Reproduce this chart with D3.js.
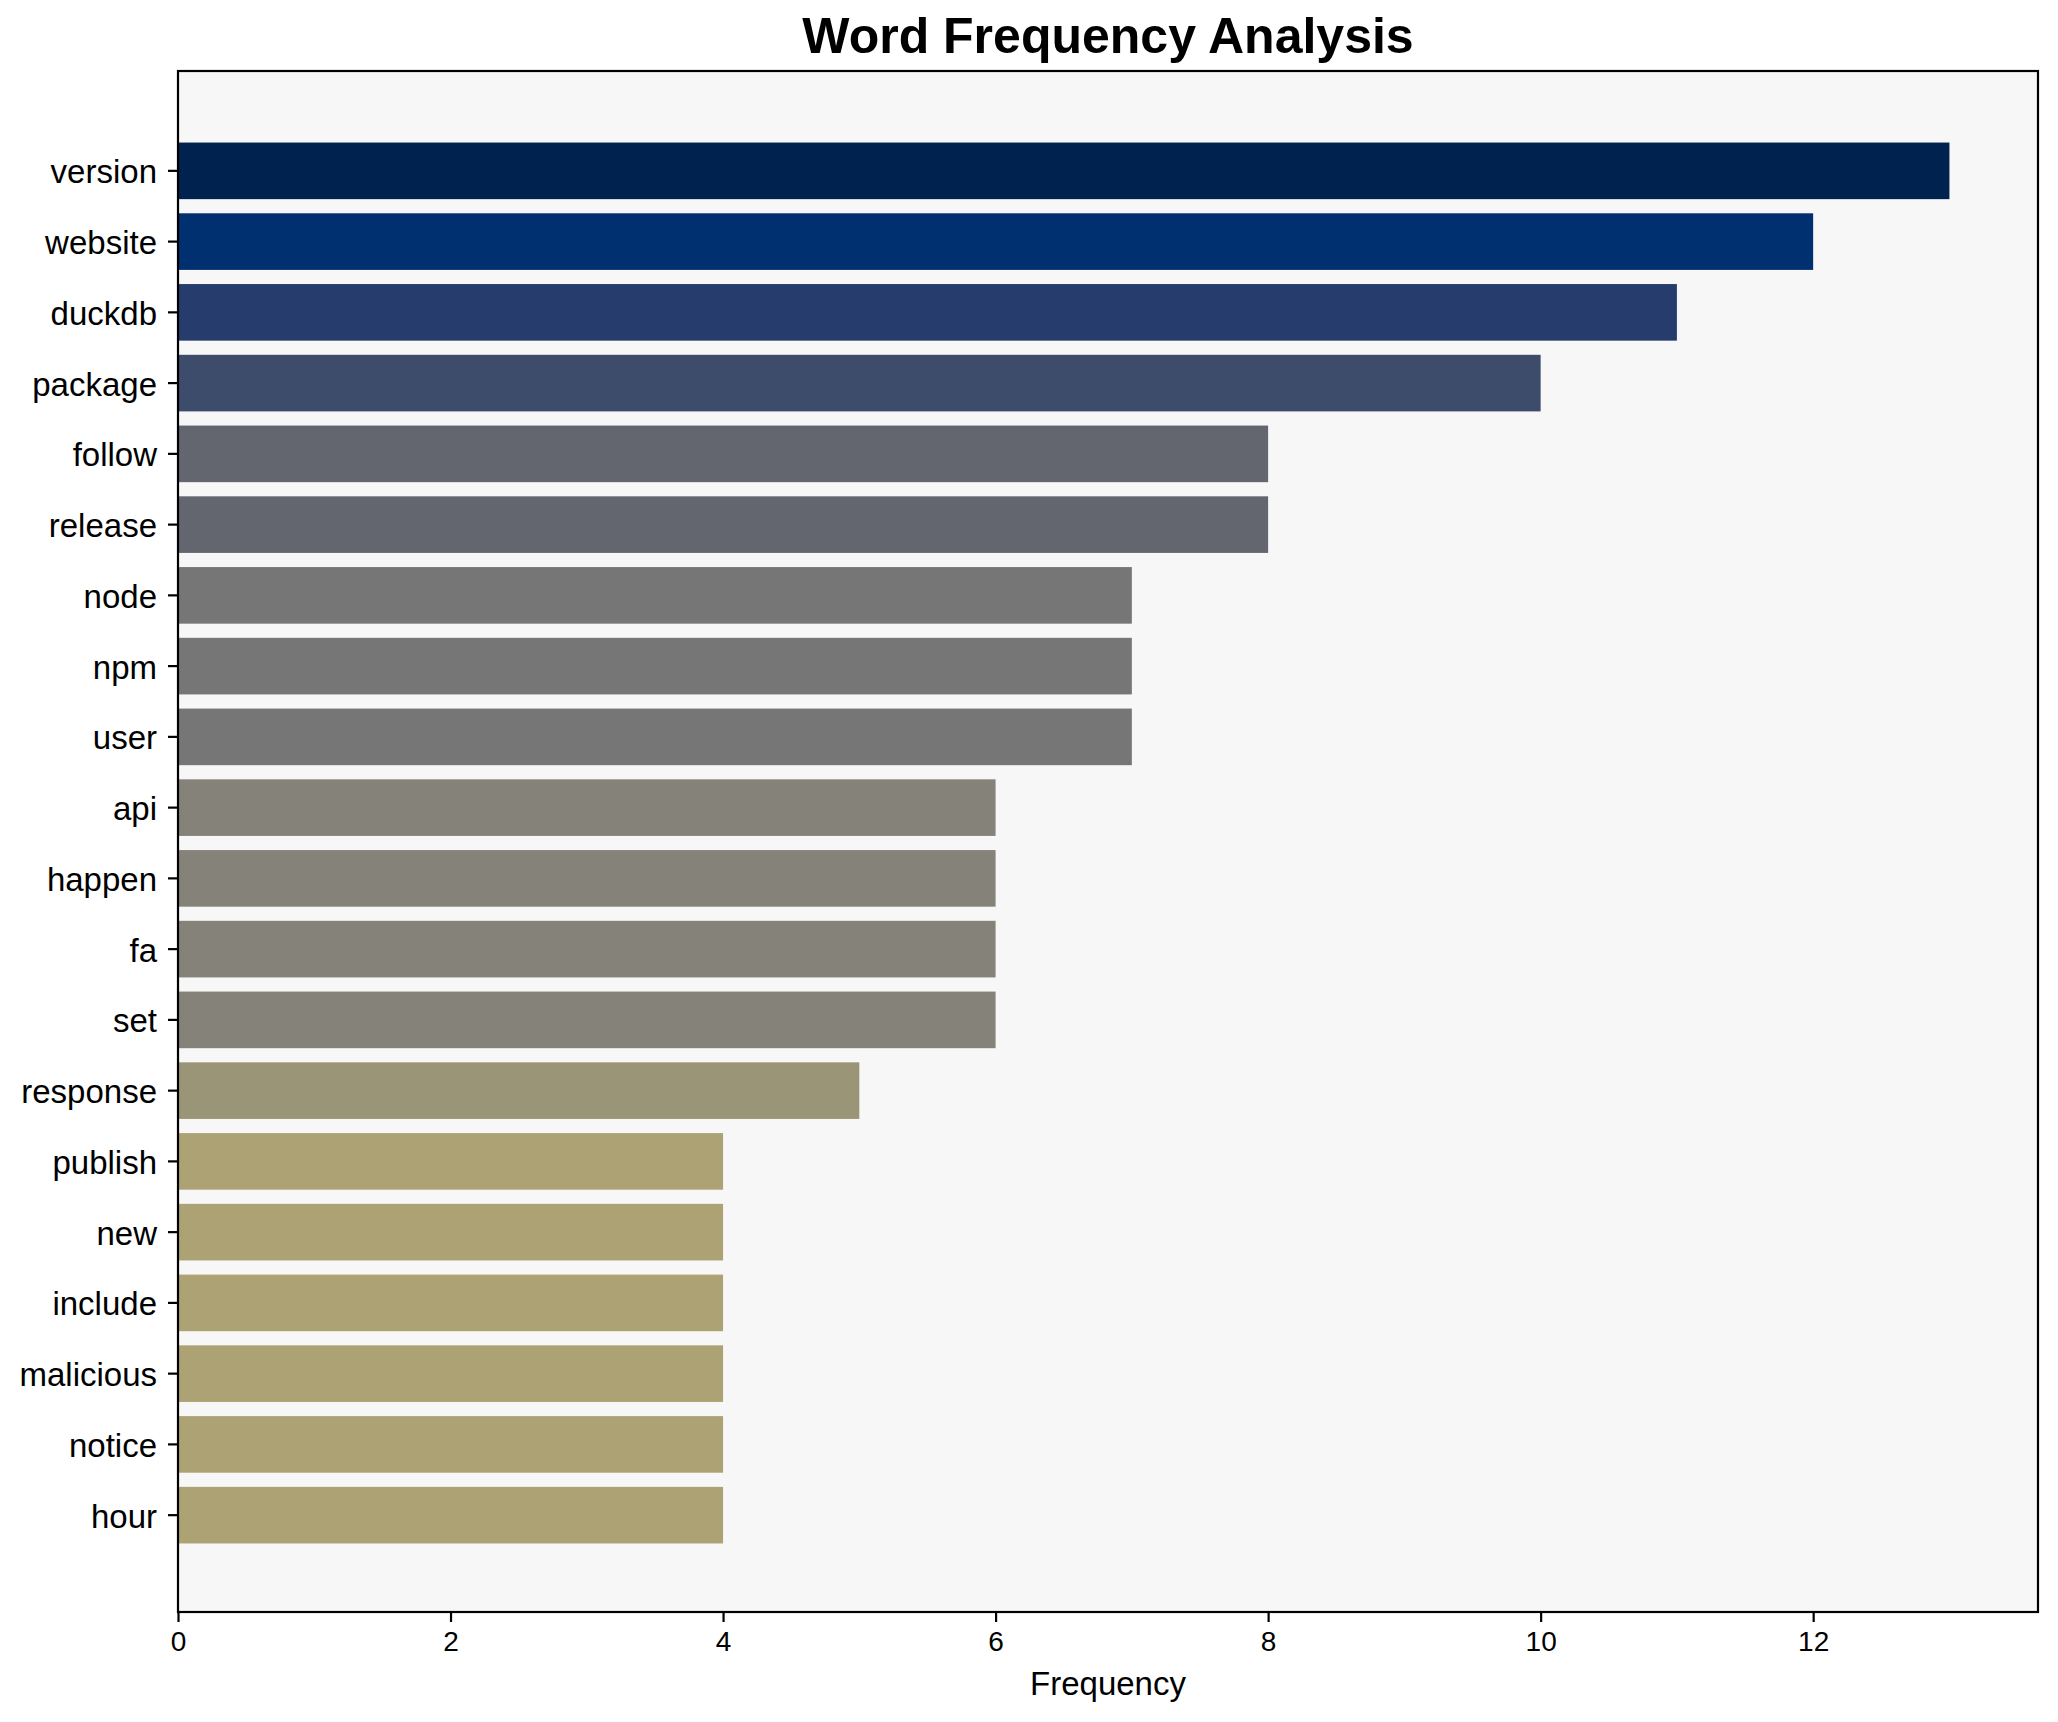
<!DOCTYPE html>
<meta charset="utf-8">
<title>Word Frequency Analysis</title>
<script src="https://d3js.org/d3.v7.min.js"></script>
<style>
  body { margin: 0; background: #fff; }
  text { font-family: "Liberation Sans", Arial, sans-serif; }
</style>
<body>
<div id="chart"></div>
<script>
// words and counts, top to bottom
var words = ["version", "website", "duckdb", "package", "follow", "release", "node", "npm", "user",
             "api", "happen", "fa", "set", "response", "publish", "new", "include", "malicious", "notice", "hour"];
var counts = [13, 12, 11, 10, 8, 8, 7, 7, 7, 6, 6, 6, 6, 5, 4, 4, 4, 4, 4, 4];
var xTicks = [0, 2, 4, 6, 8, 10, 12];

// colour per count value (cividis-like)
var colorValues = [4, 5, 6, 7, 8, 10, 11, 12, 13];
var colorList = ["#aca274", "#9b9577", "#85827a", "#767676", "#63656f", "#3e4c6b", "#253c6d", "#00306f", "#00224e"];

var W = 2058, H = 1722;
var margin = {top: 71, right: 20, bottom: 110, left: 178},
    width = W - margin.left - margin.right,
    height = H - margin.top - margin.bottom;

var svg = d3.select("#chart").append("svg")
    .attr("width", W)
    .attr("height", H);

var g = svg.append("g")
    .attr("transform", "translate(" + margin.left + "," + margin.top + ")");

var x = d3.scaleLinear()
    .domain([0, 13.65])
    .range([0, width]);

var y = d3.scaleBand()
    .domain(words)
    .range([1.5, height + 1.5])
    .paddingInner(0.2)
    .paddingOuter(0.99);

var color = d3.scaleOrdinal().domain(colorValues).range(colorList);

// plot background
g.append("rect")
    .attr("width", width)
    .attr("height", height)
    .attr("fill", "#f7f7f7");

// bars
g.selectAll(".bar")
    .data(words)
    .enter()
    .append("rect")
    .attr("class", "bar")
    .attr("x", x(0))
    .attr("y", function(d) { return y(d); })
    .attr("width", function(d, i) { return x(counts[i]) - x(0); })
    .attr("height", y.bandwidth())
    .attr("fill", function(d, i) { return color(counts[i]); });

// x axis
var xAxis = g.append("g")
    .attr("transform", "translate(0," + height + ")")
    .call(d3.axisBottom(x).tickValues(xTicks).tickSize(10).tickPadding(9).tickSizeOuter(0));
xAxis.select(".domain").remove();
xAxis.selectAll("line").attr("stroke", "#000").attr("stroke-width", 2.2);
xAxis.selectAll("text")
    .attr("font-size", "28px")
    .attr("fill", "#000")
    .attr("font-family", "Liberation Sans, Arial, sans-serif");

// y axis
var yAxis = g.append("g")
    .call(d3.axisLeft(y).tickSize(10).tickPadding(11).tickSizeOuter(0));
yAxis.select(".domain").remove();
yAxis.selectAll("line").attr("stroke", "#000").attr("stroke-width", 2.2);
yAxis.selectAll("text")
    .attr("font-size", "33px")
    .attr("dy", "0.38em")
    .attr("fill", "#000")
    .attr("font-family", "Liberation Sans, Arial, sans-serif");

// frame
g.append("rect")
    .attr("width", width)
    .attr("height", height)
    .attr("fill", "none")
    .attr("stroke", "#000")
    .attr("stroke-width", 2.2);

// title
svg.append("text")
    .attr("x", margin.left + width / 2)
    .attr("y", 53)
    .attr("text-anchor", "middle")
    .attr("font-size", "50px")
    .attr("font-weight", "bold")
    .text("Word Frequency Analysis");

// x label
svg.append("text")
    .attr("x", margin.left + width / 2)
    .attr("y", 1695)
    .attr("text-anchor", "middle")
    .attr("font-size", "33px")
    .text("Frequency");
</script>
</body>
